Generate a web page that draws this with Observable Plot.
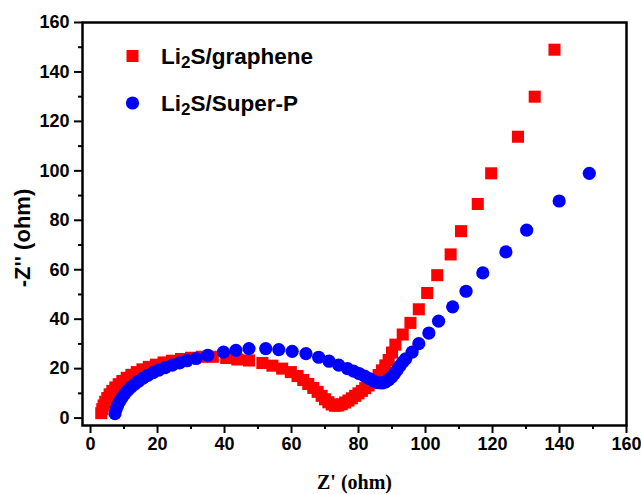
<!DOCTYPE html>
<html>
<head>
<meta charset="utf-8">
<script src="https://cdn.jsdelivr.net/npm/d3@7"></script>
<script src="https://cdn.jsdelivr.net/npm/@observablehq/plot@0.6"></script>
<style>
  html, body { margin: 0; padding: 0; background: #fff; }
  #chart { position: relative; width: 641px; height: 494px; }
</style>
</head>
<body>
<div id="chart"></div>
<script>
// Li2S/graphene: Z' (ohm) and -Z'' (ohm)
const grapheneRe = [3.2,3.5,3.9,4.4,5.0,5.7,6.5,7.4,8.4,9.5,10.8,12.2,13.8,15.5,17.4,19.5,21.8,24.3,27.0,30.0,33.2,36.5,40.5,43.8,47.3,51.3,54.3,57.2,59.8,61.8,63.5,65.0,66.5,67.8,69.0,70.0,71.0,72.0,73.0,74.0,75.0,76.0,77.0,78.0,79.0,80.0,81.0,82.0,83.0,84.0,85.0,86.0,87.0,88.0,89.0,90.0,91.0,93.2,95.5,98.0,100.5,103.5,107.5,110.6,115.6,119.6,127.6,132.6,138.5];
const grapheneIm = [2.0,3.6,5.1,6.6,8.1,9.6,11.0,12.4,13.7,15.0,16.3,17.5,18.6,19.7,20.7,21.6,22.5,23.2,23.9,24.4,24.8,24.8,24.3,23.7,23.3,22.3,21.2,20.0,18.6,17.0,15.4,13.8,12.2,10.6,9.0,7.6,6.4,5.5,5.0,5.1,5.6,6.3,7.1,8.0,9.0,10.0,11.0,12.1,13.2,14.4,15.8,17.4,19.3,21.3,23.5,26.5,29.7,33.8,38.5,44.0,50.6,57.8,66.2,75.6,86.6,99.0,113.8,130.0,149.0];

// Li2S/Super-P: Z' (ohm) and -Z'' (ohm)
const superPRe = [7.3,7.6,8.1,8.7,9.4,10.2,11.1,12.1,13.2,14.4,15.7,17.1,18.7,20.4,22.3,24.4,26.6,28.8,31.5,35.0,39.7,43.4,47.3,52.3,56.2,60.2,64.3,68.1,71.2,74.1,76.7,78.5,80.2,81.8,83.2,84.5,85.8,87.0,88.0,89.0,89.9,90.7,91.5,92.3,93.2,94.1,96.0,98.0,101.0,103.9,108.1,112.1,117.1,124.0,130.2,139.9,148.9];
const superPIm = [1.8,3.5,5.2,6.8,8.3,9.8,11.2,12.5,13.8,15.0,16.2,17.3,18.4,19.4,20.4,21.4,22.3,23.2,24.1,25.4,26.7,27.4,28.1,28.1,27.7,27.0,26.1,24.6,23.0,21.4,20.0,19.0,18.0,17.0,16.0,15.0,14.3,14.2,14.6,15.5,16.6,17.9,19.4,21.0,22.6,24.0,26.7,30.1,34.4,39.2,45.0,51.3,58.7,67.2,76.0,87.8,99.0];

const majorTicks = [0, 20, 40, 60, 80, 100, 120, 140, 160];
const minorTicks = [10, 30, 50, 70, 90, 110, 130, 150];
const seriesNames = ["Li2S/graphene", "Li2S/Super-P"];
const seriesColors = ["#ff0000", "#0000ff"];
const xTitle = "Z' (ohm)";
const yTitle = "-Z'' (ohm)";

const graphene = grapheneRe.map((x, i) => ({x, y: grapheneIm[i]}));
const superP = superPRe.map((x, i) => ({x, y: superPIm[i]}));

const sans = "Liberation Sans, Arial, sans-serif";
const serif = "Liberation Serif, Times New Roman, serif";

const chart = Plot.plot({
  width: 641,
  height: 494,
  marginLeft: 82,
  marginRight: 15,
  marginTop: 22,
  marginBottom: 69,
  style: {fontFamily: sans, background: "#fff", color: "#000"},
  x: {domain: [-2.4, 160]},
  y: {domain: [-3, 160]},
  marks: [
    Plot.axisX({ticks: majorTicks, tickSize: 8, tickPadding: 4, strokeWidth: 2, fontSize: 18, fontWeight: "bold", label: null}),
    Plot.axisX({ticks: minorTicks, tickSize: 4, strokeWidth: 2, tickFormat: () => "", label: null}),
    Plot.axisY({ticks: majorTicks, tickSize: 8, tickPadding: 5, strokeWidth: 2, fontSize: 18, fontWeight: "bold", label: null}),
    Plot.axisY({ticks: minorTicks, tickSize: 4, strokeWidth: 2, tickFormat: () => "", label: null}),
    Plot.dot(graphene, {x: "x", y: "y", symbol: "square", r: 6.8, fill: seriesColors[0], stroke: null}),
    Plot.dot(superP, {x: "x", y: "y", symbol: "circle", r: 6.6, fill: seriesColors[1], stroke: null}),
    Plot.frame({stroke: "#000", strokeWidth: 2.5}),
    Plot.text([xTitle], {frameAnchor: "bottom", dy: 63, fontFamily: serif, fontWeight: "bold", fontSize: 20, fill: "#000"}),
    Plot.text([yTitle], {frameAnchor: "left", textAnchor: "middle", lineAnchor: "middle", dx: -60, dy: 14, rotate: -90, fontFamily: sans, fontWeight: "bold", fontSize: 22, fill: "#000"})
  ]
});

// Legend drawn inside the same SVG
const svg = d3.select(chart);
const leg = svg.append("g").attr("font-family", sans).attr("font-weight", "bold").attr("font-size", 22.5).attr("fill", "#000").attr("text-anchor", "start");
const legRows = [{y: 56, color: seriesColors[0], shape: "square"}, {y: 103, color: seriesColors[1], shape: "circle"}];
legRows.forEach((r, i) => {
  if (r.shape === "square") {
    leg.append("rect").attr("x", 126.5).attr("y", r.y - 6).attr("width", 12).attr("height", 12).attr("fill", r.color);
  } else {
    leg.append("circle").attr("cx", 132.5).attr("cy", r.y).attr("r", 6.6).attr("fill", r.color);
  }
  const name = seriesNames[i];
  const t = leg.append("text").attr("x", 161).attr("y", r.y + 7.5).attr("text-anchor", "start");
  t.append("tspan").text(name.slice(0, 2));
  t.append("tspan").attr("dy", 4).attr("font-size", 17).text(name.slice(2, 3));
  t.append("tspan").attr("dy", -4).text(name.slice(3));
});

document.getElementById("chart").appendChild(chart);
</script>
</body>
</html>
